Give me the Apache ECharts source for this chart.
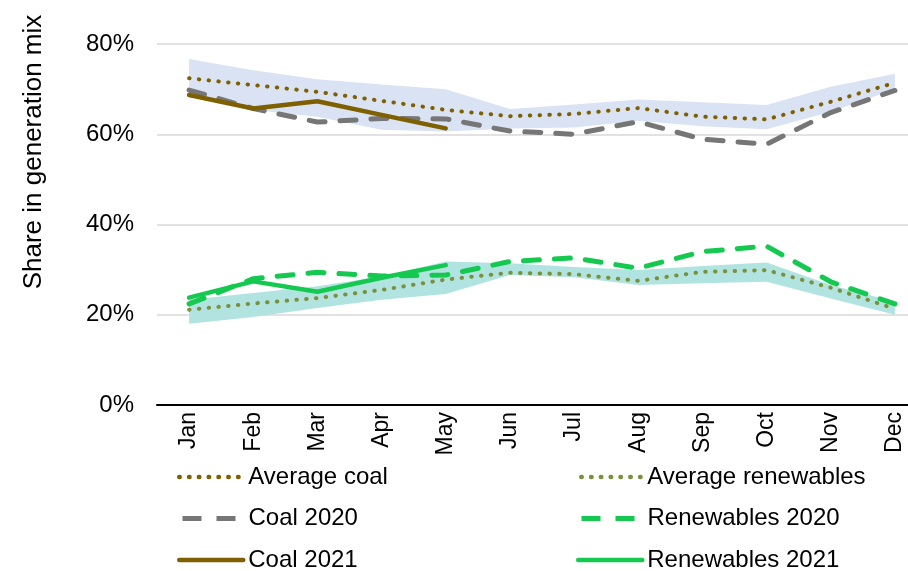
<!DOCTYPE html>
<html>
<head>
<meta charset="utf-8">
<script src="https://cdn.jsdelivr.net/npm/echarts@6/dist/echarts.min.js"></script>
<style>
    html, body { margin: 0; padding: 0; background: #fff; }
    #chart { width: 908px; height: 571px; }
</style>
</head>
<body>
<div id="chart"></div>
<script>
    // months and y ticks
    var months = ['Jan', 'Feb', 'Mar', 'Apr', 'May', 'Jun', 'Jul', 'Aug', 'Sep', 'Oct', 'Nov', 'Dec'];
    var yTicks = [0, 20, 40, 60, 80];

    // coal range (min / max) and lines, % share
    var coalMin = [69.0, 65.4, 63.9, 61.0, 60.6, 61.3, 61.5, 63.0, 61.8, 61.1, 65.0, 70.0];
    var coalMax = [76.7, 74.2, 72.2, 71.0, 70.0, 65.6, 66.6, 67.7, 67.1, 66.5, 70.5, 73.4];
    var avgCoal = [72.4, 70.9, 69.4, 67.4, 65.4, 64.0, 64.5, 65.8, 63.9, 63.3, 67.2, 71.4];
    var coal2020 = [69.8, 65.7, 62.7, 63.5, 63.4, 60.7, 60.0, 62.8, 58.9, 57.8, 64.8, 69.7];
    var coal2021 = [68.7, 65.7, 67.3, 64.3, 61.3];

    // renewables range (min / max) and lines
    var renMin = [18.0, 19.5, 21.5, 23.3, 24.6, 28.8, 28.3, 26.6, 27.0, 27.3, 23.6, 20.0];
    var renMax = [23.3, 24.8, 26.3, 28.5, 31.8, 31.4, 30.6, 29.9, 30.8, 31.6, 26.6, 22.9];
    var avgRen = [21.1, 22.5, 23.7, 25.5, 27.8, 29.3, 29.0, 27.5, 29.5, 29.9, 26.0, 21.3];
    var ren2020 = [22.4, 28.0, 29.4, 28.6, 28.8, 31.8, 32.6, 30.3, 34.0, 35.2, 27.3, 22.4];
    var ren2021 = [23.8, 27.4, 25.1, 28.2, 31.0];

    // legend layout: two columns, three rows
    var legendCols = [
        ['Average coal', 'Coal 2020', 'Coal 2021'],
        ['Average renewables', 'Renewables 2020', 'Renewables 2021']
    ];

    var FONT = 'Liberation Sans, Arial, sans-serif';

    function diff(hi, lo) {
        return hi.map(function (v, i) { return +(v - lo[i]).toFixed(2); });
    }

    // invisible base + visible band stacked on it
    function band(name, lo, hi, color) {
        return [
            {
                name: name + 'Base', type: 'line', stack: name, data: lo,
                symbol: 'none', silent: true, z: 1,
                lineStyle: { opacity: 0 }, areaStyle: { opacity: 0 }
            },
            {
                name: name + 'Band', type: 'line', stack: name, data: diff(hi, lo),
                symbol: 'none', silent: true, z: 1,
                lineStyle: { opacity: 0 }, areaStyle: { color: color, opacity: 1 }
            }
        ];
    }

    function line(name, data, color, type, width, z) {
        return {
            name: name, type: 'line', data: data, symbol: 'none', z: z,
            lineStyle: { color: color, width: width, type: type, cap: 'round' },
            itemStyle: { color: color }
        };
    }

    var dots = [0.5, 9.3];
    var dash = [16, 15];

    var series = []
        .concat(band('coal', coalMin, coalMax, '#DAE3F3'))
        .concat(band('ren', renMin, renMax, '#B1E4E1'))
        .concat([
            line('Average coal', avgCoal, '#7F6000', dots, 4, 3),
            line('Coal 2020', coal2020, '#767676', dash, 5, 4),
            line('Coal 2021', coal2021, '#7F6000', 'solid', 4.5, 5),
            line('Average renewables', avgRen, '#7A913C', dots, 4, 3),
            line('Renewables 2020', ren2020, '#14C850', dash, 5, 4),
            line('Renewables 2021', ren2021, '#14C850', 'solid', 4.5, 5)
        ]);

    // one legend per entry so nothing wraps
    var legends = [];
    legendCols.forEach(function (col, c) {
        col.forEach(function (name, r) {
            var ls = { width: 4.5 };
            if (r === 1) { // dashed entries: two dashes like the original key
                ls = { width: 5, type: [19, 15], cap: 'butt', dashOffset: -3 };
            }
            legends.push({
                data: [name], orient: 'horizontal', padding: 0,
                left: c === 0 ? 177 : 576, top: 465 + r * 41.5,
                itemWidth: 64, itemHeight: 14, itemGap: 0,
                itemStyle: { opacity: 0 },
                lineStyle: ls,
                textStyle: { fontSize: 24, color: '#000', fontFamily: FONT }
            });
        });
    });

    var option = {
        animation: false,
        backgroundColor: '#fff',
        grid: { left: 157, top: 44, width: 770, bottom: 166, containLabel: false, outerBoundsMode: 'none' },
        xAxis: {
            type: 'category', data: months, boundaryGap: true,
            axisLine: { lineStyle: { color: '#000', width: 2 } },
            axisTick: { show: false },
            axisLabel: { rotate: 90, fontSize: 23, color: '#000', fontFamily: FONT, margin: 7 }
        },
        yAxis: {
            type: 'value', min: yTicks[0], max: yTicks[yTicks.length - 1], interval: 20,
            axisLine: { show: false }, axisTick: { show: false },
            axisLabel: { formatter: '{value}%', fontSize: 24, color: '#000', fontFamily: FONT, margin: 23 },
            splitLine: { lineStyle: { color: '#D9D9D9', width: 1.5 } }
        },
        legend: legends,
        graphic: [{
            type: 'text', x: 34, y: 152, rotation: Math.PI / 2,
            style: {
                text: 'Share in generation mix', fontSize: 26, fill: '#000', fontFamily: FONT,
                align: 'center', verticalAlign: 'middle'
            }
        }],
        series: series
    };

    var chart = echarts.init(document.getElementById('chart'));
    chart.setOption(option);
</script>
</body>
</html>
